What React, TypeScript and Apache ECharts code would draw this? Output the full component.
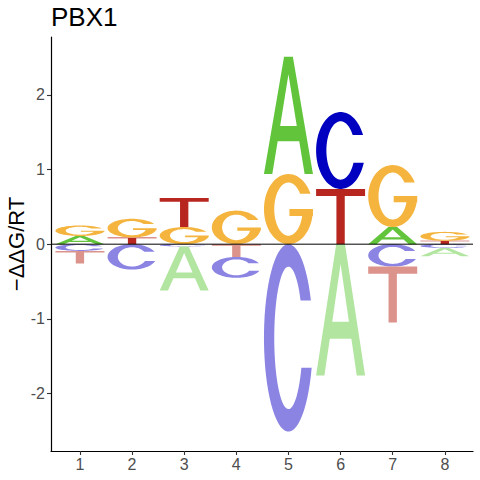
import React, { useEffect, useRef } from "react";
import * as echarts from "echarts";

// ---- data ----
const positions = [1, 2, 3, 4, 5, 6, 7, 8];
const bases = ["A", "C", "G", "T"];
const valuesA = [0.11, 0, -0.59, 0, 1.57, -1.76, 0.23, -0.11];
const valuesC = [-0.09, -0.34, -0.03, -0.28, -2.51, 1.03, -0.3, -0.05];
const valuesG = [0.14, 0.25, 0.23, 0.45, 0.94, 0, 0.83, 0.12];
const valuesT = [-0.17, 0.09, 0.39, -0.17, 0, 0.74, -0.75, 0.045];
const xTickValues = [1, 2, 3, 4, 5, 6, 7, 8];
const yTickValues = [-2, -1, 0, 1, 2];
const titleText = "PBX1";
const yName = "\u2212\u0394\u0394G/RT";

const posColors: Record<string, string> = { A: "#61C43B", C: "#0000C0", G: "#F4B43E", T: "#B8271F" };
const negColors: Record<string, string> = { A: "#B2E5A0", C: "#8B84E3", G: "#F9D99E", T: "#DC938C" };

const FONT = "'Liberation Sans', Arial, Helvetica, sans-serif";
const HALF_W = 0.47;

// ---- glyph outlines in a unit box (y down) ----
type Pt = [number, number];
const DEG = Math.PI / 180;
function arc(cx: number, cy: number, rx: number, ry: number, a0: number, a1: number, n = 60): Pt[] {
  const pts: Pt[] = [];
  for (let i = 0; i <= n; i++) {
    const a = (a0 + ((a1 - a0) * i) / n) * DEG;
    pts.push([cx + rx * Math.cos(a), cy - ry * Math.sin(a)]);
  }
  return pts;
}
function area(r: Pt[]) {
  let s = 0;
  for (let i = 0; i < r.length; i++) {
    const p = r[i], q = r[(i + 1) % r.length];
    s += p[0] * q[1] - q[0] * p[1];
  }
  return s;
}
function withHoles(outer: Pt[], holes: Pt[][]): Pt[][] {
  const so = Math.sign(area(outer));
  return [outer, ...holes.map((h) => (Math.sign(area(h)) === so ? h.slice().reverse() : h))];
}
const oRx = 0.5, oRy = 0.5, iRx = 0.29, iRy = 0.38;
const asinD = (v: number) => Math.asin(v) / DEG;

function glyphC(): Pt[][] {
  const yU = 0.3, yL = 0.66;
  const ao1 = asinD((0.5 - yU) / oRy), ao2 = asinD((0.5 - yL) / oRy);
  const ai1 = asinD((0.5 - yU) / iRy), ai2 = asinD((0.5 - yL) / iRy);
  return [[...arc(0.5, 0.5, oRx, oRy, ao1, 360 + ao2), ...arc(0.5, 0.5, iRx, iRy, 360 + ai2, ai1)]];
}
function glyphG(): Pt[][] {
  const yU = 0.28, barTop = 0.5, barBot = 0.6, barLeft = 0.52;
  const ao1 = asinD((0.5 - yU) / oRy), aoE = asinD((0.5 - barBot) / oRy);
  const ai1 = asinD((0.5 - yU) / iRy), aiE = asinD((0.5 - barBot) / iRy);
  return [[
    ...arc(0.5, 0.5, oRx, oRy, ao1, 360 + aoE),
    [1.0, barBot], [1.0, barTop], [barLeft, barTop], [barLeft, barBot],
    ...arc(0.5, 0.5, iRx, iRy, 360 + aiE, ai1),
  ]];
}
function glyphA(): Pt[][] {
  const outer: Pt[] = [[0, 1], [0.41, 0], [0.59, 0], [1, 1], [0.83, 1], [0.72, 0.72], [0.28, 0.72], [0.17, 1]];
  const hole: Pt[] = [[0.33, 0.59], [0.5, 0.15], [0.67, 0.59]];
  return withHoles(outer, [hole]);
}
function glyphT(): Pt[][] {
  return [[[0, 0], [1, 0], [1, 0.13], [0.585, 0.13], [0.585, 1], [0.415, 1], [0.415, 0.13], [0, 0.13]]];
}
const GLYPHS: Record<string, Pt[][]> = { A: glyphA(), C: glyphC(), G: glyphG(), T: glyphT() };

function glyphPath(letter: string, left: number, top: number, w: number, h: number) {
  return GLYPHS[letter]
    .map((ring) =>
      "M" + ring.map((p) => (left + p[0] * w).toFixed(2) + " " + (top + p[1] * h).toFixed(2)).join("L") + "Z"
    )
    .join(" ");
}

// ---- build stacked letter rectangles ----
function buildStacks() {
  const cols = [valuesA, valuesC, valuesG, valuesT];
  const items: number[][] = [];
  positions.forEach((pos, i) => {
    const vals = bases.map((b, k) => ({ k, v: cols[k][i] }));
    const pos_ = vals.filter((d) => d.v > 0.001).sort((a, b) => a.v - b.v);
    const neg_ = vals.filter((d) => d.v < -0.001).sort((a, b) => b.v - a.v);
    let acc = 0;
    pos_.forEach((d) => {
      items.push([pos, acc, acc + d.v, d.k, 0]);
      acc += d.v;
    });
    acc = 0;
    neg_.forEach((d) => {
      items.push([pos, acc + d.v, acc, d.k, 1]);
      acc += d.v;
    });
  });
  return items;
}

export default function App() {
  const ref = useRef<HTMLDivElement>(null);
  useEffect(() => {
    if (!ref.current) return;
    const chart = echarts.init(ref.current, null, { renderer: "svg" });
    const data = buildStacks();
    const axisCommon = {
      axisLine: { show: true, onZero: false, lineStyle: { color: "#000", width: 1.2 } },
      splitLine: { show: false },
    };
    chart.setOption({
      animation: false,
      backgroundColor: "#fff",
      grid: { left: 51, right: 7, top: 37, bottom: 29, containLabel: false, outerBoundsMode: "none" },
      xAxis: {
        type: "value",
        min: 0.445,
        max: 8.54,
        ...axisCommon,
        axisTick: { show: true, length: 4, customValues: xTickValues, lineStyle: { color: "#333", width: 1.1 } },
        axisLabel: { customValues: xTickValues, color: "#4D4D4D", fontSize: 16, margin: 5, fontFamily: FONT },
      },
      yAxis: {
        type: "value",
        min: -2.77,
        max: 2.775,
        ...axisCommon,
        axisTick: { show: true, length: 4, customValues: yTickValues, lineStyle: { color: "#333", width: 1.1 } },
        axisLabel: { customValues: yTickValues, color: "#4D4D4D", fontSize: 16, margin: 6, fontFamily: FONT },
      },
      graphic: [
        {
          type: "text",
          x: 51,
          y: 17,
          style: { text: titleText, fontSize: 26, fill: "#000", align: "left", verticalAlign: "middle", fontFamily: FONT },
        },
        {
          type: "text",
          x: 16,
          y: 244,
          rotation: Math.PI / 2,
          style: { text: yName, fontSize: 22, fill: "#000", align: "center", verticalAlign: "middle", fontFamily: FONT },
        },
      ],
      series: [
        {
          type: "custom",
          data,
          encode: { x: 0, y: [1, 2] },
          clip: false,
          renderItem: (params: any, api: any) => {
            const x = api.value(0), y0 = api.value(1), y1 = api.value(2);
            const letter = bases[api.value(3)];
            const neg = api.value(4) === 1;
            const tl = api.coord([x - HALF_W, y1]);
            const br = api.coord([x + HALF_W, y0]);
            const w = br[0] - tl[0], h = br[1] - tl[1];
            return {
              type: "path",
              shape: { pathData: glyphPath(letter, tl[0], tl[1], w, h) },
              style: { fill: neg ? negColors[letter] : posColors[letter], stroke: null },
            };
          },
          z: 2,
        },
        {
          type: "line",
          data: [[0.445, 0], [8.54, 0]],
          symbol: "none",
          silent: true,
          lineStyle: { color: "#000", width: 1 },
          z: 5,
        },
      ],
    });
    return () => chart.dispose();
  }, []);
  return <div ref={ref} style={{ position: "absolute", left: 0, top: 0, width: 480, height: 480 }} />;
}
